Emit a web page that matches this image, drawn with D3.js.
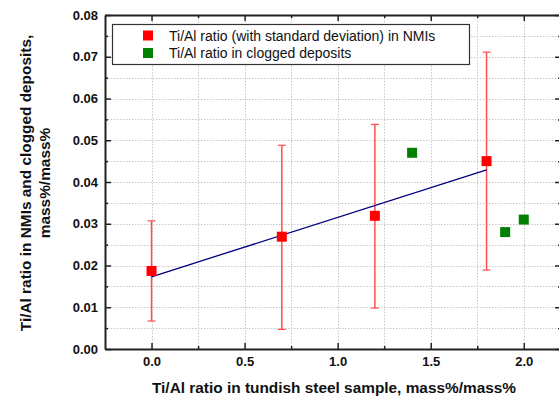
<!DOCTYPE html>
<html>
<head>
<meta charset="utf-8">
<script src="https://cdn.jsdelivr.net/npm/d3@7"></script>
<style>
  html, body { margin: 0; padding: 0; background: #fff; }
  svg { display: block; font-family: "Liberation Sans", Arial, sans-serif; }
</style>
</head>
<body>
<svg id="chart" width="559" height="399"></svg>
<script>
// Ti/Al ratio in NMIs (mean with standard deviation range)
const nmiX = [0.0, 0.7, 1.2, 1.8];
const nmiY = [0.0187, 0.0269, 0.0319, 0.0450];
const nmiLow = [0.0067, 0.0047, 0.0098, 0.0189];
const nmiHigh = [0.0307, 0.0488, 0.0538, 0.0711];

// Ti/Al ratio in clogged deposits
const depX = [1.4, 1.9, 2.0];
const depY = [0.0470, 0.0280, 0.0310];

// Linear fit through the NMI series
const fitX = [0.0, 1.8];
const fitY = [0.0173, 0.0429];

const xTicks = [0.0, 0.5, 1.0, 1.5, 2.0];
const xMinor = [0.25, 0.75, 1.25, 1.75];
const yTicks = [0.00, 0.01, 0.02, 0.03, 0.04, 0.05, 0.06, 0.07, 0.08];
const yMinor = [0.005, 0.015, 0.025, 0.035, 0.045, 0.055, 0.065, 0.075];

const legendLabels = [
  "Ti/Al ratio (with standard deviation) in NMIs",
  "Ti/Al ratio in clogged deposits"
];

const svg = d3.select("#chart");
const plot = { left: 105, top: 15, right: 561, bottom: 349 };

const x = d3.scaleLinear().domain([-0.25, 2.2]).range([plot.left, plot.right]);
const y = d3.scaleLinear().domain([0, 0.08]).range([plot.bottom, plot.top]);

// dotted grid at major and minor positions
const grid = svg.append("g").attr("stroke", "#c8c8c8").attr("stroke-width", 1)
  .attr("stroke-dasharray", "1.5,1.5");
const gx = xTicks.concat(xMinor);
grid.selectAll("line.gx").data(gx).join("line")
  .attr("x1", d => Math.round(x(d)) + 0.5).attr("x2", d => Math.round(x(d)) + 0.5)
  .attr("y1", plot.top).attr("y2", plot.bottom);
const gy = yTicks.slice(1, -1).concat(yMinor);
grid.selectAll("line.gy").data(gy).join("line")
  .attr("y1", d => Math.round(y(d)) + 0.5).attr("y2", d => Math.round(y(d)) + 0.5)
  .attr("x1", plot.left).attr("x2", plot.right);

// axes with inward ticks on all four sides
const axisColor = "#222";
function styleAxis(g) {
  g.select(".domain").attr("stroke", axisColor).attr("stroke-width", 2);
  g.selectAll(".tick line").attr("stroke", axisColor).attr("stroke-width", 1.5);
}
const axBottom = svg.append("g").attr("transform", `translate(0,${plot.bottom})`)
  .call(d3.axisBottom(x).tickValues(xTicks).tickSizeInner(-6).tickSizeOuter(0)
    .tickPadding(8).tickFormat(d3.format(".1f")));
styleAxis(axBottom);
axBottom.selectAll("text").attr("font-size", 13).attr("font-weight", "bold").attr("fill", "#111");
svg.append("g").attr("transform", `translate(0,${plot.bottom})`)
  .call(d3.axisBottom(x).tickValues(xMinor).tickSizeInner(-3).tickSizeOuter(0).tickFormat(""))
  .call(styleAxis).select(".domain").remove();

const axTop = svg.append("g").attr("transform", `translate(0,${plot.top})`)
  .call(d3.axisTop(x).tickValues(xTicks).tickSizeInner(-6).tickSizeOuter(0).tickFormat(""));
styleAxis(axTop);
svg.append("g").attr("transform", `translate(0,${plot.top})`)
  .call(d3.axisTop(x).tickValues(xMinor).tickSizeInner(-3).tickSizeOuter(0).tickFormat(""))
  .call(styleAxis).select(".domain").remove();

const axLeft = svg.append("g").attr("transform", `translate(${plot.left},0)`)
  .call(d3.axisLeft(y).tickValues(yTicks).tickSizeInner(-6).tickSizeOuter(0)
    .tickPadding(7).tickFormat(d3.format(".2f")));
styleAxis(axLeft);
axLeft.selectAll("text").attr("font-size", 13).attr("font-weight", "bold").attr("fill", "#111");
svg.append("g").attr("transform", `translate(${plot.left},0)`)
  .call(d3.axisLeft(y).tickValues(yMinor).tickSizeInner(-3).tickSizeOuter(0).tickFormat(""))
  .call(styleAxis).select(".domain").remove();

const axRight = svg.append("g").attr("transform", `translate(${plot.right},0)`)
  .call(d3.axisRight(y).tickValues(yTicks).tickSizeInner(-6).tickSizeOuter(0).tickFormat(""));
styleAxis(axRight);
svg.append("g").attr("transform", `translate(${plot.right},0)`)
  .call(d3.axisRight(y).tickValues(yMinor).tickSizeInner(-3).tickSizeOuter(0).tickFormat(""))
  .call(styleAxis).select(".domain").remove();

// error bars
const eb = svg.append("g").attr("stroke", "#ff4d4d").attr("stroke-width", 1.5);
const nmi = nmiX.map((v, i) => ({ x: v, y: nmiY[i], lo: nmiLow[i], hi: nmiHigh[i] }));
eb.selectAll("line.v").data(nmi).join("line").attr("class", "v")
  .attr("x1", d => x(d.x)).attr("x2", d => x(d.x))
  .attr("y1", d => y(d.lo)).attr("y2", d => y(d.hi));
eb.selectAll("line.hi").data(nmi).join("line").attr("class", "hi")
  .attr("x1", d => x(d.x) - 4).attr("x2", d => x(d.x) + 4)
  .attr("y1", d => y(d.hi)).attr("y2", d => y(d.hi)).attr("stroke-width", 1.2);
eb.selectAll("line.lo").data(nmi).join("line").attr("class", "lo")
  .attr("x1", d => x(d.x) - 4).attr("x2", d => x(d.x) + 4)
  .attr("y1", d => y(d.lo)).attr("y2", d => y(d.lo)).attr("stroke-width", 1.2);

// fit line
svg.append("path")
  .datum(fitX.map((v, i) => [v, fitY[i]]))
  .attr("d", d3.line().x(d => x(d[0])).y(d => y(d[1])))
  .attr("fill", "none").attr("stroke", "#000080").attr("stroke-width", 1.3);

// markers
const ms = 10;
svg.append("g").selectAll("rect").data(nmi).join("rect")
  .attr("x", d => x(d.x) - ms / 2).attr("y", d => y(d.y) - ms / 2)
  .attr("width", ms).attr("height", ms).attr("fill", "#ff0000");
svg.append("g").selectAll("rect").data(depX.map((v, i) => ({ x: v, y: depY[i] }))).join("rect")
  .attr("x", d => x(d.x) - ms / 2).attr("y", d => y(d.y) - ms / 2)
  .attr("width", ms).attr("height", ms).attr("fill", "#008000");

// legend
const lg = svg.append("g");
lg.append("rect").attr("x", 112.5).attr("y", 24.5).attr("width", 357).attr("height", 40)
  .attr("fill", "#fff").attr("stroke", "#333").attr("stroke-width", 1.2);
const legendColors = ["#ff0000", "#008000"];
legendLabels.forEach((t, i) => {
  const cy = 35.5 + i * 17.5;
  lg.append("rect").attr("x", 143).attr("y", cy - 5).attr("width", 10).attr("height", 10)
    .attr("fill", legendColors[i]);
  lg.append("text").attr("x", 169).attr("y", cy + 5).attr("font-size", 14)
    .attr("fill", "#111").text(t);
});

// axis titles
svg.append("text").attr("x", 334).attr("y", 393)
  .attr("text-anchor", "middle").attr("font-size", 15.4).attr("font-weight", "bold").attr("fill", "#111")
  .text("Ti/Al ratio in tundish steel sample, mass%/mass%");
const yt = svg.append("text").attr("transform", "translate(0,183) rotate(-90)")
  .attr("text-anchor", "middle").attr("font-size", 15.4).attr("font-weight", "bold").attr("fill", "#111");
yt.append("tspan").attr("x", 0).attr("y", 31).text("Ti/Al ratio in NMIs and clogged deposits,");
yt.append("tspan").attr("x", 0).attr("y", 50).text("mass%/mass%");
</script>
</body>
</html>
